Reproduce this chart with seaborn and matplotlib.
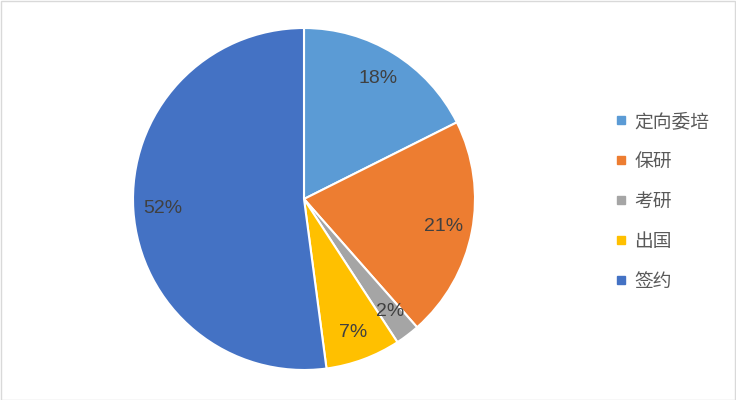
import matplotlib
matplotlib.use('Agg')
import matplotlib.pyplot as plt
import seaborn as sns
from matplotlib.lines import Line2D
from matplotlib.patches import Rectangle

# data
labels = ['定向委培', '保研', '考研', '出国', '签约']
shares = [17.6, 20.9, 2.3, 7.1, 52.1]
colors = ['#5B9BD5', '#ED7D31', '#A5A5A5', '#FFC000', '#4472C4']

sns.set_theme(style='white')
plt.rcParams['font.family'] = ['Liberation Sans', 'Noto Sans CJK SC', 'DejaVu Sans']

fig = plt.figure(figsize=(7.36, 4.0), dpi=100)
ax = fig.add_axes([133 / 736, 30 / 400, 342 / 736, 342 / 400])

wedges, texts, autotexts = ax.pie(
    shares, colors=colors, startangle=90, counterclock=False,
    autopct='%1.0f%%', pctdistance=0.83,
    wedgeprops=dict(edgecolor='white', linewidth=1.5),
    textprops=dict(color='#404040', fontsize=14),
)
ax.set_xlim(-1, 1)
ax.set_ylim(-1, 1)
ax.set_aspect('equal')

handles = [Line2D([0], [0], marker='s', linestyle='none', markersize=6,
                  markerfacecolor=c, markeredgecolor=c) for c in colors]
fig.legend(handles, labels, loc='center left', bbox_to_anchor=(595 / 736, 1 - 202 / 400),
           frameon=False, fontsize=13.5, labelspacing=1.22, handletextpad=0.2,
           handlelength=1.0, labelcolor='#595959')

# light outer border
fig.patches.append(Rectangle((0.001, 0.001), 0.997, 0.996, transform=fig.transFigure,
                             fill=False, edgecolor='#D9D9D9', linewidth=1))

fig.savefig('out.png', dpi=100)
